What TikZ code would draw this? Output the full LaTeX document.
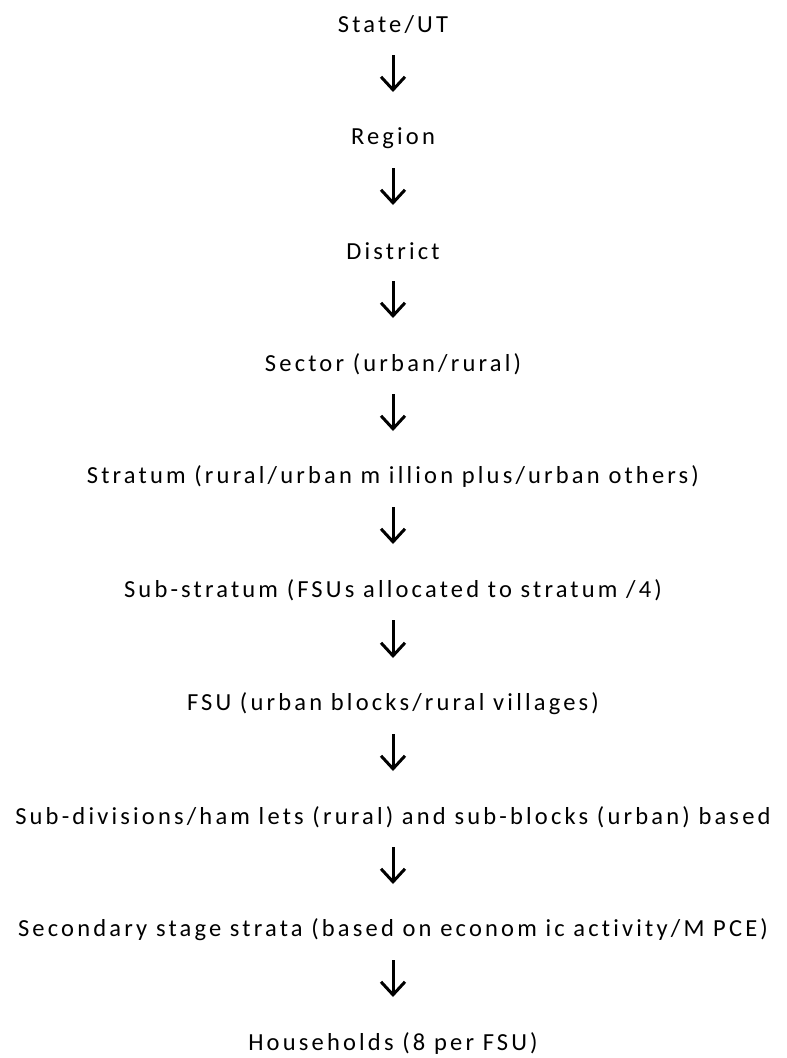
\documentclass[tikz,border=0pt]{standalone}
\usepackage{fontspec}
\setmainfont{Carlito}[LetterSpace=13,Ligatures={NoCommon}]
\usetikzlibrary{arrows.meta}
\begin{document}
\begin{tikzpicture}[x=1pt,y=-1pt,
  lvl/.style={inner sep=0pt, font=\fontsize{24.5}{28}\selectfont, text=black},
  arr/.style={line width=3pt, -{Straight Barb[length=13pt,width=24pt,line width=3pt]}, shorten <=30pt, shorten >=46pt}]
\useasboundingbox (0,0) rectangle (787,1058);
\def\cx{393}
\node[lvl] (n1) at (\cx,25) {State/UT};
\node[lvl] (n2) at (\cx,138) {Region};
\node[lvl] (n3) at (\cx,251) {District};
\node[lvl] (n4) at (\cx,364) {Sector (urban/rural)};
\node[lvl] (n5) at (\cx,477) {Stratum (rural/urban m illion plus/urban others)};
\node[lvl] (n6) at (\cx,590) {Sub-stratum (FSUs allocated to stratum /4)};
\node[lvl] (n7) at (\cx,704) {FSU (urban blocks/rural villages)};
\node[lvl] (n8) at (\cx,817) {Sub-divisions/ham lets (rural) and sub-blocks (urban) based};
\node[lvl] (n9) at (\cx,930) {Secondary stage strata (based on econom ic activity/M PCE)};
\node[lvl] (n10) at (\cx,1043) {Households (8 per FSU)};
\foreach \a/\b in {n1/n2,n2/n3,n3/n4,n4/n5,n5/n6,n6/n7,n7/n8,n8/n9,n9/n10}
  \draw[arr] (\a.center) -- (\b.center);
\end{tikzpicture}
\end{document}
